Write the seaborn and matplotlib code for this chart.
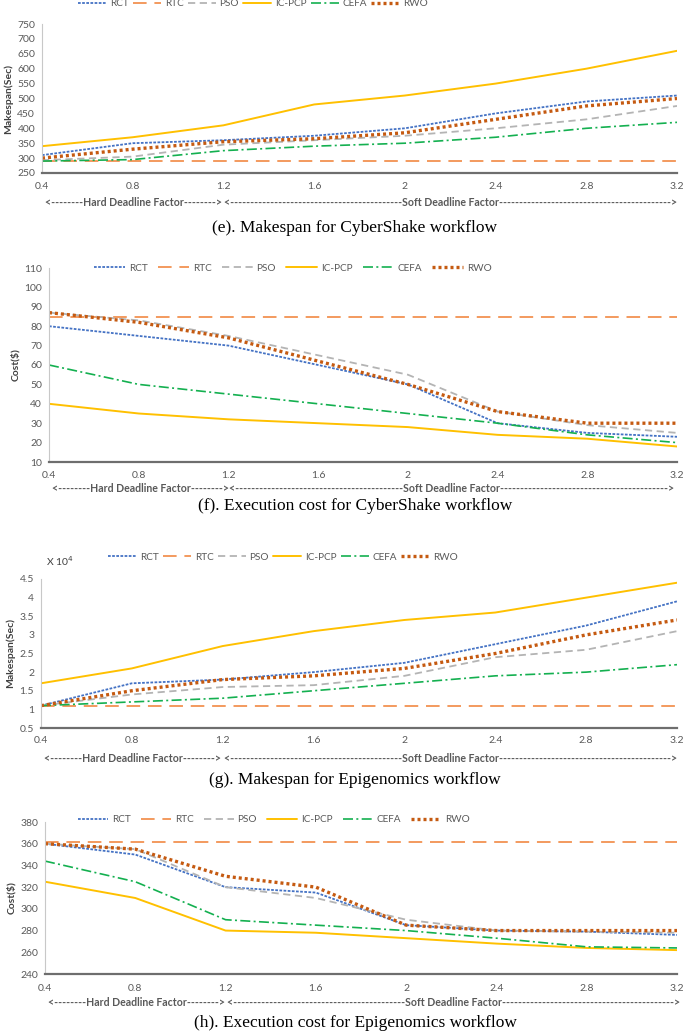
import matplotlib
matplotlib.use("Agg")
import matplotlib.pyplot as plt
import seaborn as sns
import numpy as np

sns.set_theme(style="white")
plt.rcParams['font.family'] = ['Lato', 'DejaVu Sans']

x_factor = [0.4, 0.8, 1.2, 1.6, 2.0, 2.4, 2.8, 3.2]
x_ticklabels = ["0.4", "0.8", "1.2", "1.6", "2", "2.4", "2.8", "3.2"]
algorithms = ["RCT", "RTC", "PSO", "IC-PCP", "CEFA", "RWO"]

# (e) Makespan CyberShake
e_RCT = [310, 350, 360, 375, 400, 450, 490, 510]
e_RTC = [290, 290, 290, 290, 290, 290, 290, 290]
e_PSO = [293, 305, 345, 360, 375, 400, 430, 475]
e_ICPCP = [340, 370, 410, 480, 510, 550, 600, 660]
e_CEFA = [290, 295, 325, 340, 350, 370, 400, 420]
e_RWO = [300, 330, 355, 365, 385, 430, 475, 500]

# (f) Cost CyberShake
f_RCT = [80, 75, 70, 60, 50, 30, 25, 23]
f_RTC = [85, 85, 85, 85, 85, 85, 85, 85]
f_PSO = [87, 83, 75, 65, 55, 36, 29, 25]
f_ICPCP = [40, 35, 32, 30, 28, 24, 22, 18]
f_CEFA = [60, 50, 45, 40, 35, 30, 24, 20]
f_RWO = [87, 82, 74, 62, 50, 36, 30, 30]

# (g) Makespan Epigenomics (x 10^4)
g_RCT = [1.1, 1.7, 1.8, 2.0, 2.25, 2.75, 3.25, 3.9]
g_RTC = [1.1, 1.1, 1.1, 1.1, 1.1, 1.1, 1.1, 1.1]
g_PSO = [1.1, 1.4, 1.6, 1.65, 1.9, 2.4, 2.6, 3.1]
g_ICPCP = [1.7, 2.1, 2.7, 3.1, 3.4, 3.6, 4.0, 4.4]
g_CEFA = [1.1, 1.2, 1.3, 1.5, 1.7, 1.9, 2.0, 2.2]
g_RWO = [1.1, 1.5, 1.8, 1.9, 2.1, 2.5, 3.0, 3.4]

# (h) Cost Epigenomics
h_RCT = [360, 350, 320, 315, 285, 280, 279, 276]
h_RTC = [362, 362, 362, 362, 362, 362, 362, 362]
h_PSO = [360, 355, 320, 310, 290, 280, 279, 278]
h_ICPCP = [325, 310, 280, 278, 273, 268, 264, 262]
h_CEFA = [344, 325, 290, 285, 280, 273, 265, 264]
h_RWO = [360, 355, 330, 320, 285, 280, 280, 280]

captions = ["(e). Makespan for CyberShake workflow",
            "(f). Execution cost for CyberShake workflow",
            "(g). Makespan for Epigenomics workflow",
            "(h). Execution cost for Epigenomics workflow"]
ylabels = ["Makespan(Sec)", "Cost($)", "Makespan(Sec)", "Cost($)"]

styles = {
    "RCT": dict(color="#4472C4", lw=1.3, dashes=(1.5, 0.8)),
    "RTC": dict(color="#F39A5E", lw=1.4, dashes=(7, 4)),
    "PSO": dict(color="#B4B4B4", lw=1.3, dashes=(4, 2.5)),
    "IC-PCP": dict(color="#FFC000", lw=1.4, dashes=None),
    "CEFA": dict(color="#14B050", lw=1.2, dashes=(6, 2, 1.2, 2)),
    "RWO": dict(color="#C55A11", lw=2.4, dashes=(0.9, 0.9)),
}

W, H = 685, 1033
fig = plt.figure(figsize=(W / 100, H / 100), dpi=100)

panels = [
    dict(series=[e_RCT, e_RTC, e_PSO, e_ICPCP, e_CEFA, e_RWO], left=42, right=677, top=24, bottom=173,
         ylim=(250, 750), yticks=np.arange(250, 751, 50), yfmt="{:.0f}", pad=6.5, legend=(253, 4),
         hl=2.8, cs=0.45, row=203, cap=228),
    dict(series=[f_RCT, f_RTC, f_PSO, f_ICPCP, f_CEFA, f_RWO], left=49, right=677, top=268, bottom=462,
         ylim=(10, 110), yticks=np.arange(10, 111, 10), yfmt="{:.0f}", pad=6.5, legend=(293, 268),
         hl=3.1, cs=1.05, row=489, cap=506),
    dict(series=[g_RCT, g_RTC, g_PSO, g_ICPCP, g_CEFA, g_RWO], left=41, right=677, top=579, bottom=728,
         ylim=(0.5, 4.5), yticks=np.arange(0.5, 4.51, 0.5), yfmt="{:g}", pad=6, legend=(283, 557),
         hl=2.8, cs=0.45, row=758, cap=780),
    dict(series=[h_RCT, h_RTC, h_PSO, h_ICPCP, h_CEFA, h_RWO], left=45, right=677, top=822, bottom=974,
         ylim=(240, 380), yticks=np.arange(240, 381, 20), yfmt="{:.0f}", pad=7.5, legend=(274, 820),
         hl=3.0, cs=1.05, row=1003, cap=1023),
]

tick_color = "#595959"
renderer = fig.canvas.get_renderer()


def fill_dashes(x0, x1, y, label, fs):
    # build "<----label---->" text that spans pixel range [x0, x1]
    n = 1
    best = None
    while True:
        s = "<" + "-" * n + label + "-" * n + ">"
        t = fig.text(x0 / W, 1 - y / H, s, fontsize=fs, color=tick_color, fontweight="bold",
                     ha="left", va="center")
        w = t.get_window_extent(renderer=renderer).width
        if w > (x1 - x0):
            t.remove()
            break
        if best is not None:
            best.remove()
        best = t
        n += 1
    return best


for i, p in enumerate(panels):
    ax = fig.add_axes([p["left"] / W, 1 - p["bottom"] / H,
                       (p["right"] - p["left"]) / W, (p["bottom"] - p["top"]) / H])
    for name, vals in zip(algorithms, p["series"]):
        st = styles[name]
        sns.lineplot(x=x_factor, y=vals, ax=ax, label=name, color=st["color"], lw=st["lw"])
        ln = ax.get_lines()[-1]
        if st["dashes"] is not None:
            ln.set_dashes(st["dashes"])
    ax.set_xlim(0.4, 3.2)
    ax.set_ylim(*p["ylim"])
    ax.set_xticks(x_factor)
    ax.set_xticklabels(x_ticklabels)
    ax.set_yticks(p["yticks"])
    ax.set_yticklabels([p["yfmt"].format(v) for v in p["yticks"]])
    ax.tick_params(axis="x", direction="in", length=3, width=1, color="#404040",
                   labelsize=7.5, labelcolor=tick_color, pad=p["pad"])
    ax.tick_params(axis="y", direction="in", length=2.5, width=0.8, color="#C8C8C8",
                   labelsize=7.5, labelcolor=tick_color, pad=5)
    for s in ["top", "right"]:
        ax.spines[s].set_visible(False)
    ax.spines["left"].set_color("#C8C8C8")
    ax.spines["left"].set_linewidth(0.8)
    ax.spines["bottom"].set_color("#6E6E6E")
    ax.spines["bottom"].set_linewidth(1.6)
    ax.set_xlabel("")
    ax.set_ylabel(ylabels[i], fontsize=7.5, fontweight="bold", color="#404040", labelpad=3)
    ax.grid(False)
    lg = ax.legend(loc="center", bbox_to_anchor=(p["legend"][0] / W, 1 - p["legend"][1] / H),
                   bbox_transform=fig.transFigure, ncol=6, frameon=False, fontsize=7.2,
                   handlelength=p["hl"], columnspacing=p["cs"], handletextpad=0.35,
                   borderpad=0.1)
    for t in lg.get_texts():
        t.set_color(tick_color)

    # deadline factor row
    x_of = lambda v: p["left"] + (v - 0.4) / 2.8 * (p["right"] - p["left"])
    fill_dashes(p["left"] + 3, x_of(1.2) + 1, p["row"], "Hard Deadline Factor", 7.6)
    fill_dashes(x_of(1.2) + 1, p["right"] + 3, p["row"], "Soft Deadline Factor", 7.6)

    fig.text(355 / W, 1 - p["cap"] / H, captions[i],
             fontsize=12.5, family="Liberation Serif", ha="center", va="center", color="black")

# scale marker for panel (g)
fig.text(46 / W, 1 - 561 / H, "X 10$^4$", fontsize=7.5, color="#404040", ha="left", va="center")

fig.savefig("out.png", dpi=100)
